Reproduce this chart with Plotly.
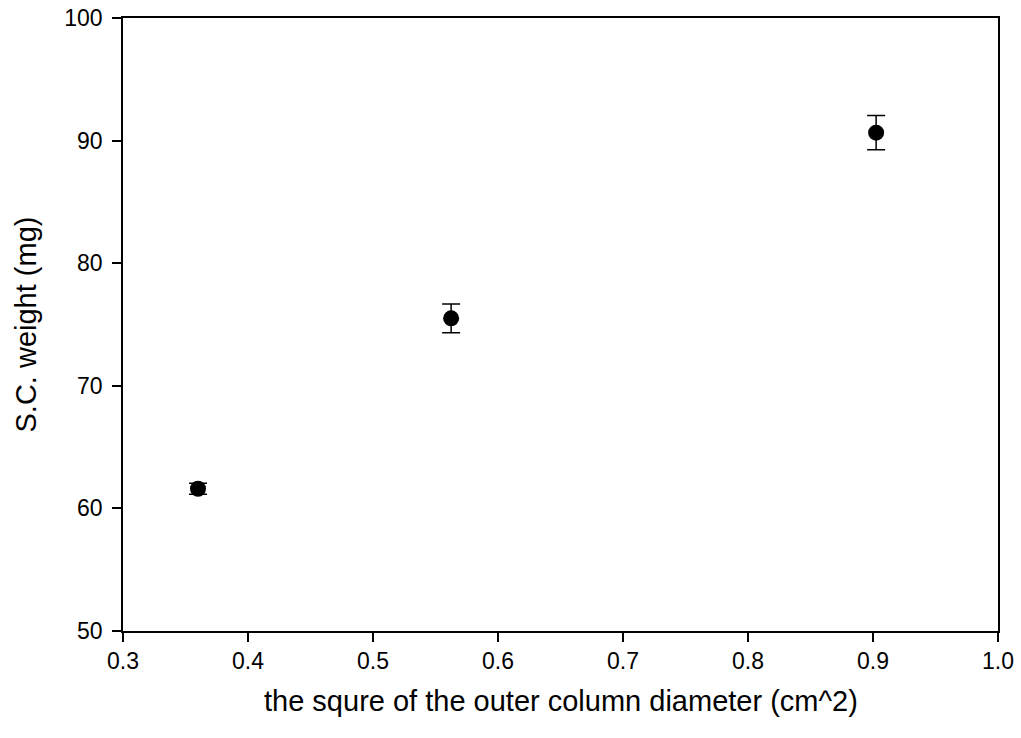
import plotly.graph_objects as go

# Squared outer column diameter (cm^2) vs. S.C. weight (mg), mean ± error
diameter_sq = [0.36, 0.5625, 0.9025]
sc_weight = [61.6, 75.5, 90.65]
sc_error = [0.45, 1.17, 1.4]

x_ticks = [0.3, 0.4, 0.5, 0.6, 0.7, 0.8, 0.9, 1.0]
y_ticks = [50, 60, 70, 80, 90, 100]

x_title = "the squre of the outer column diameter (cm^2)"
y_title = "S.C. weight (mg)"

font_family = "Liberation Sans, Arial, sans-serif"

fig = go.Figure(
    go.Scatter(
        x=diameter_sq,
        y=sc_weight,
        mode="markers",
        marker=dict(color="black", size=16, symbol="circle"),
        error_y=dict(type="data", array=sc_error, visible=True,
                     color="black", thickness=1.5, width=9),
        showlegend=False,
    )
)

axis_common = dict(
    showline=True, linecolor="black", linewidth=1.5, mirror=True,
    ticks="outside", ticklen=9, tickwidth=1.5, tickcolor="black",
    showgrid=False, zeroline=False, automargin=False,
    tickfont=dict(family=font_family, size=23, color="black"),
)

fig.update_layout(
    width=1021, height=738,
    margin=dict(l=123, r=23, t=18, b=107),
    paper_bgcolor="white", plot_bgcolor="white",
    font=dict(family=font_family, color="black"),
    xaxis=dict(range=[0.3, 1.0], tickvals=x_ticks,
               ticktext=[f"{v:.1f}" for v in x_ticks], **axis_common),
    yaxis=dict(range=[50, 100], tickvals=y_ticks, ticklabelstandoff=5,
               **axis_common),
)

# Axis titles, centred on each axis
fig.add_annotation(text=x_title, xref="paper", yref="paper", x=0.5, y=0,
                   xanchor="center", yanchor="middle", yshift=-70,
                   showarrow=False, font=dict(family=font_family, size=29))
fig.add_annotation(text=y_title, xref="paper", yref="paper", x=0, y=0.5,
                   xanchor="center", yanchor="middle", xshift=-98,
                   textangle=-90, showarrow=False,
                   font=dict(family=font_family, size=29))

fig.write_html("out.html")
